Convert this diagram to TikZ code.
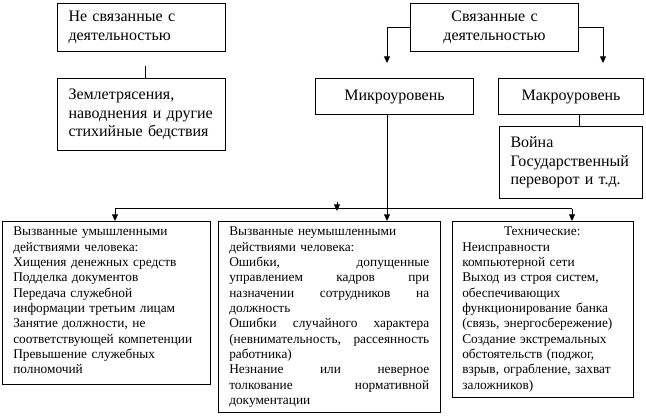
\documentclass[tikz,border=0pt]{standalone}
\usepackage{fontspec}
\setmainfont{Liberation Serif}
\newfontfamily\rusfont{Liberation Serif}
\usetikzlibrary{arrows.meta}
\newcommand\topfont{\rusfont\fontsize{12pt}{14pt}\selectfont}
\newcommand\botfont{\rusfont\fontsize{10pt}{11.5pt}\selectfont}
\begin{document}
\begin{tikzpicture}[x=0.75pt,y=-0.75pt,
  box/.style={draw, line width=0.75pt, inner ysep=0pt, inner xsep=8.25pt, anchor=north west, font=\topfont},
  frame/.style={draw, line width=0.75pt, inner sep=0pt, anchor=north west},
  txt/.style={inner sep=0pt, anchor=north west, align=left, font=\botfont},
  conn/.style={line width=0.75pt},
  arr/.style={line width=0.75pt, -{Triangle[width=4.5pt,length=5pt]}}]
\useasboundingbox (0,0) rectangle (646,416);
% top row
\node[box, minimum width=126pt, minimum height=36pt, text width=109.5pt, align=left] (b1) at (57,3) {Не связанные с\\деятельностью};
\node[box, minimum width=126pt, minimum height=54pt, text width=109.5pt, align=left] (b2) at (57,78) {Землетрясения,\\наводнения и другие\\стихийные бедствия};
\node[box, minimum width=126pt, minimum height=36pt, text width=109.5pt, align=center] (bs) at (410,3) {Связанные с\\деятельностью};
\node[box, minimum width=118.5pt, minimum height=27pt, text width=102pt, align=center] (mic) at (315,78) {Микроуровень};
\node[box, minimum width=108.75pt, minimum height=27pt, text width=92.25pt, align=center] (mac) at (498,78) {Макроуровень};
\node[box, minimum width=107.25pt, minimum height=54pt, text width=90.75pt, align=left] (war) at (499,126) {Война\\Государственный\\переворот и т.д.};
% bottom boxes
\node[frame, minimum width=156pt, minimum height=122.25pt] (b3) at (2,221) {};
\node[frame, minimum width=166.5pt, minimum height=143.25pt] (b4) at (218,221) {};
\node[frame, minimum width=135.75pt, minimum height=132pt] (b5) at (452,221) {};
\node[txt, text width=144pt] (t3) at (13,227) {Вызванные умышленными\\действиями человека:\\Хищения денежных средств\\Подделка документов\\Передача служебной\\информации третьим лицам\\Занятие должности, не\\соответствующей компетенции\\Превышение служебных\\полномочий};
\node[txt, text width=150pt] (t4) at (229,227) {Вызванные неумышленными\\действиями человека:\\Ошибки,\hfill допущенные\\управлением\hfill кадров\hfill при\\назначении\hfill сотрудников\hfill на\\должность\\Ошибки\hfill случайного\hfill характера\\(невнимательность,\hfill рассеянность\\работника)\\Незнание\hfill или\hfill неверное\\толкование\hfill нормативной\\документации};
\node[txt, text width=120pt] (t5) at (462,227) {\null\hfill Технические:\hfill\null\\Неисправности\\компьютерной сети\\Выход из строя систем,\\обеспечивающих\\функционирование банка\\(связь, энергосбережение)\\Создание экстремальных\\обстоятельств (поджог,\\взрыв, ограбление, захват\\заложников)};
% connectors
\coordinate (s1) at (145,66);
\draw[conn] (s1) -- (s1 |- b2.north);
\coordinate (aL) at (387,63);
\coordinate (aR) at (603,63);
\draw[arr] (bs.west) -| (aL);
\draw[arr] (bs.east) -| (aR);
\coordinate (m1) at (387,114);
\draw[arr] (m1) -- (m1 |- b4.north);
\coordinate (w1) at (579,114);
\draw[conn] (w1) -- (w1 |- war.north);
\coordinate (hL) at (115,209);
\coordinate (hR) at (572,209);
\draw[conn] (hL) -- (hR);
\draw[arr] (hL) -- (hL |- b3.north);
\draw[arr] (hR) -- (hR |- b5.north);
\coordinate (k1) at (337,202);
\coordinate (k2) at (337,211);
\draw[arr] (k1) -- (k2);
\end{tikzpicture}
\end{document}
